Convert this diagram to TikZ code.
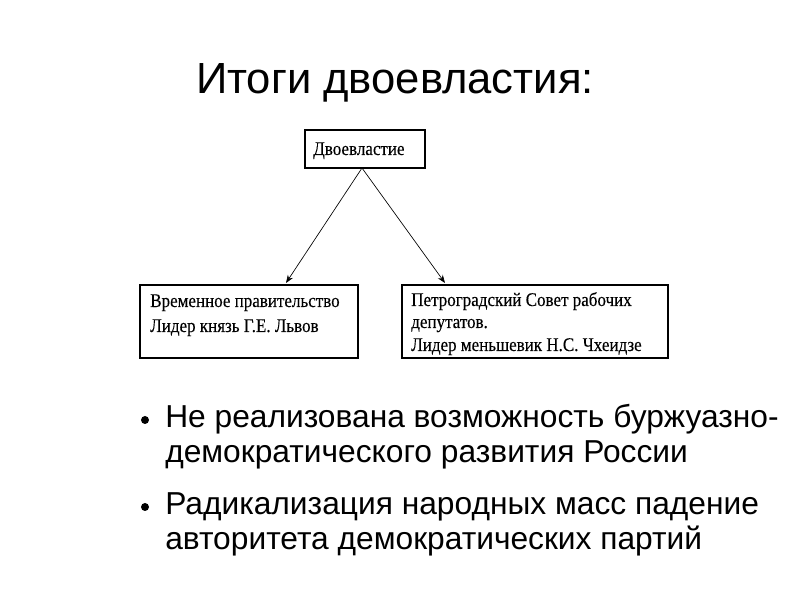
\documentclass[tikz,border=0pt]{standalone}
\usepackage{fontspec}
\setmainfont{Liberation Sans}
\newfontfamily\boxfont{Liberation Serif}[FakeStretch=0.88,FakeBold=0.2]
\usetikzlibrary{arrows.meta}
\begin{document}
\begin{tikzpicture}[x=0.75pt,y=-0.75pt,
  boxstyle/.style={draw=black,line width=0.9pt},
  boxtext/.style={anchor=base west,inner sep=0pt,font=\boxfont\fontsize{14.5pt}{17pt}\selectfont},
  bigtext/.style={anchor=base west,inner sep=0pt,font=\fontsize{23.8pt}{28pt}\selectfont},
  conn/.style={line width=0.5pt,-{Stealth[length=6pt,width=4.5pt]}}]
\useasboundingbox (0,0) rectangle (794,595);
\fill[white] (0,0) rectangle (794,595);
\node[anchor=base,inner sep=0pt,font=\fontsize{32.7pt}{38pt}\selectfont] (title) at (395,94) {Итоги двоевластия:};
% boxes
\draw[boxstyle] (305,130) rectangle (425,168);
\coordinate (top) at (362,168);
\node[boxtext] (t0) at (313,155) {Двоевластие};
\draw[boxstyle] (140,285) rectangle (358,358);
\node[boxtext] (l1) at (150,307) {Временное правительство};
\node[boxtext] (l2) at (150,332) {Лидер князь Г.Е. Львов};
\draw[boxstyle] (402,285) rectangle (668,358);
\node[boxtext] (r1) at (411,306) {Петроградский Совет рабочих};
\node[boxtext] (r2) at (411,328) {депутатов.};
\node[boxtext] (r3) at (411,351) {Лидер меньшевик Н.С. Чхеидзе};
\coordinate (la) at (286,283);
\coordinate (ra) at (445,283);
\draw[conn] (top) -- (la);
\draw[conn] (top) -- (ra);
% bullets
\fill (145,420) circle (3pt);
\fill (145,507) circle (3pt);
\node[bigtext] (b1) at (165,428) {Не реализована возможность буржуазно-};
\node[bigtext] (b1b) at (165,463) {демократического развития России};
\node[bigtext] (b2) at (165,515) {Радикализация народных масс падение};
\node[bigtext] (b2b) at (165,550) {авторитета демократических партий};
\end{tikzpicture}
\end{document}
